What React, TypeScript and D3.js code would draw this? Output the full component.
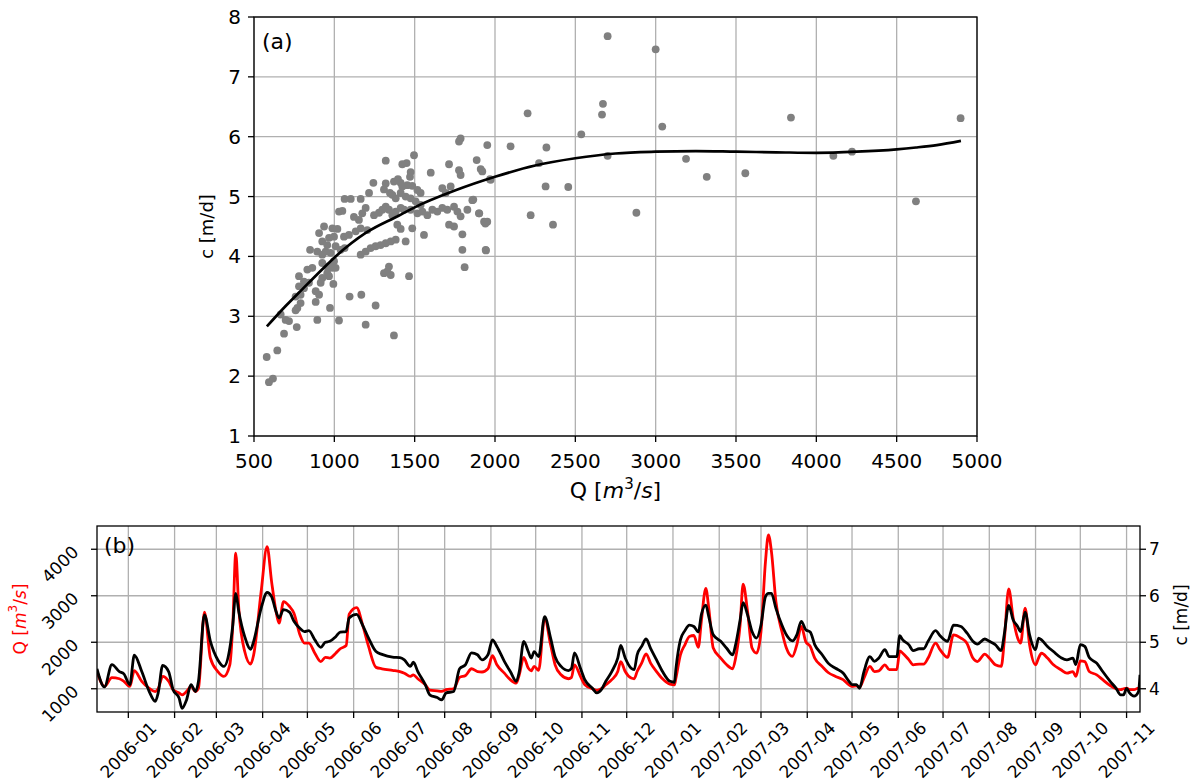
import React from "react";
import * as d3 from "d3";

// ---------- Panel (a) data ----------
const scatterQ = [1776,1786,1952,2097,1496,1320,1423,1450,1714,1886,1600,1475,1471,1776,1786,1911,1921,1969,1243,1320,1309,1371,1396,1413,1423,1454,1485,1517,1537,1672,1693,1724,1216,1064,1102,1164,1346,1361,1382,1413,1444,1475,1506,1537,1029,1050,1195,1174,1122,1153,1247,1278,1299,1320,1340,1361,1382,1413,1434,1475,1517,1548,1579,1610,1641,1672,1703,1745,1766,1786,1828,1859,1900,1932,1952,1714,1745,1558,1485,1392,1413,1444,1797,1797,1942,1811,905,936,988,1019,967,998,1060,1091,1133,1164,1205,1008,977,946,1039,1064,925,956,1164,1195,1226,1257,1288,1320,1351,1382,849,894,925,863,832,925,956,988,780,811,842,915,967,994,884,905,780,811,759,790,1340,1330,1351,1309,1465,770,790,759,884,973,1095,1168,1257,666,697,718,894,1029,1195,766,687,1371,645,579,593,618,998,977,1008,956,925,2203,2672,2666,2537,2701,2320,2701,2274,2315,2456,2222,2361,3000,3041,3842,4898,3189,3318,3558,4106,4222,4620,2880,1944,1940,1902,1865,1973];
const scatterC = [5.92,5.97,5.86,5.84,5.69,5.60,5.54,5.56,5.54,5.61,5.40,5.41,5.33,5.44,5.36,5.46,5.42,5.29,5.23,5.22,5.12,5.25,5.29,5.23,5.17,5.19,5.18,5.11,5.06,5.14,5.06,5.17,5.06,4.96,4.96,4.96,5.06,5.03,4.97,5.06,5.00,4.97,4.92,4.86,4.75,4.76,4.81,4.72,4.66,4.61,4.69,4.73,4.78,4.83,4.78,4.69,4.75,4.81,4.78,4.78,4.72,4.75,4.69,4.78,4.75,4.81,4.78,4.83,4.75,4.67,4.78,4.94,4.72,4.58,4.58,4.53,4.50,4.36,4.47,4.53,4.46,4.25,4.37,4.11,4.11,3.82,4.39,4.50,4.47,4.46,4.31,4.33,4.33,4.36,4.42,4.47,4.44,4.17,4.06,4.08,4.11,4.14,4.25,4.19,4.03,4.08,4.14,4.17,4.19,4.22,4.25,4.28,4.11,4.08,4.03,3.81,3.78,3.89,3.83,3.81,3.67,3.58,3.56,3.56,3.67,3.54,3.42,3.36,3.50,3.47,3.33,3.36,3.83,3.75,3.69,3.72,3.67,3.14,3.22,3.10,3.24,3.14,3.33,3.36,3.18,3.03,2.94,2.92,2.94,2.93,2.86,2.82,2.71,2.68,2.43,2.32,1.90,1.96,3.92,3.83,3.81,3.72,3.64,6.39,6.55,6.37,6.04,7.68,5.82,5.68,5.56,5.17,5.16,4.69,4.53,7.46,6.17,6.32,6.31,5.63,5.33,5.39,5.68,5.75,4.92,4.73,4.10,4.55,4.72,4.95,5.28];

const curveQ = [580,700,800,900,1000,1200,1400,1500,1750,2000,2250,2500,2750,3000,3250,3500,3750,4000,4250,4500,4620,4750,4900];
const curveC = [2.83,3.18,3.45,3.72,3.98,4.40,4.68,4.82,5.10,5.33,5.52,5.64,5.72,5.75,5.76,5.75,5.74,5.73,5.75,5.79,5.82,5.86,5.93];

const aXTicks = [500,1000,1500,2000,2500,3000,3500,4000,4500,5000];
const aYTicks = [1,2,3,4,5,6,7,8];

// ---------- Panel (b) data ----------
const seriesDates = [
"2005-12-11","2005-12-16","2005-12-21","2005-12-26","2005-12-29",
"2006-01-02","2006-01-05","2006-01-10","2006-01-15","2006-01-19","2006-01-21","2006-01-24","2006-01-28","2006-01-31",
"2006-02-04","2006-02-06","2006-02-09","2006-02-12","2006-02-15","2006-02-17","2006-02-21","2006-02-25",
"2006-03-02","2006-03-06","2006-03-10","2006-03-12","2006-03-14","2006-03-16","2006-03-20","2006-03-24","2006-03-26","2006-03-31",
"2006-04-04","2006-04-07","2006-04-10","2006-04-12","2006-04-15","2006-04-19","2006-04-22","2006-04-26","2006-04-29",
"2006-05-02","2006-05-06","2006-05-10","2006-05-13","2006-05-16","2006-05-20","2006-05-23","2006-05-27","2006-05-29",
"2006-06-03","2006-06-07","2006-06-11","2006-06-16","2006-06-20","2006-06-27",
"2006-07-02","2006-07-05","2006-07-09","2006-07-11","2006-07-14","2006-07-19","2006-07-22","2006-07-27","2006-07-30",
"2006-08-02","2006-08-07","2006-08-11","2006-08-15","2006-08-19","2006-08-23","2006-08-26","2006-08-30",
"2006-09-02","2006-09-05","2006-09-10","2006-09-14","2006-09-18","2006-09-20","2006-09-23","2006-09-26","2006-09-28","2006-09-30",
"2006-10-03","2006-10-07","2006-10-11","2006-10-14","2006-10-18","2006-10-23","2006-10-25","2006-10-27","2006-10-31",
"2006-11-03","2006-11-08","2006-11-11","2006-11-14","2006-11-17","2006-11-21","2006-11-25","2006-11-27","2006-11-30",
"2006-12-04","2006-12-06","2006-12-08","2006-12-11","2006-12-14","2006-12-17","2006-12-21","2006-12-25","2006-12-30",
"2007-01-02","2007-01-03","2007-01-06","2007-01-09","2007-01-12","2007-01-15","2007-01-18","2007-01-20","2007-01-23","2007-01-25","2007-01-28",
"2007-02-02","2007-02-06","2007-02-10","2007-02-12","2007-02-15","2007-02-17","2007-02-20","2007-02-23","2007-02-26",
"2007-03-01","2007-03-04","2007-03-06","2007-03-08","2007-03-11","2007-03-15","2007-03-18","2007-03-22","2007-03-25","2007-03-28","2007-03-31",
"2007-04-03","2007-04-06","2007-04-11","2007-04-15","2007-04-20","2007-04-25","2007-04-29",
"2007-05-01","2007-05-04","2007-05-06","2007-05-09","2007-05-13","2007-05-16","2007-05-19","2007-05-23","2007-05-26","2007-05-31",
"2007-06-02","2007-06-04","2007-06-08","2007-06-11","2007-06-15","2007-06-18","2007-06-21","2007-06-26","2007-06-29",
"2007-07-04","2007-07-08","2007-07-13","2007-07-17","2007-07-21","2007-07-24","2007-07-29",
"2007-08-01","2007-08-05","2007-08-09","2007-08-11","2007-08-14","2007-08-17","2007-08-20","2007-08-22","2007-08-25","2007-08-28",
"2007-09-01","2007-09-03","2007-09-05","2007-09-09","2007-09-13","2007-09-18","2007-09-22","2007-09-26","2007-09-28",
"2007-10-01","2007-10-04","2007-10-07","2007-10-12","2007-10-16","2007-10-21","2007-10-25","2007-10-28","2007-10-30",
"2007-11-01","2007-11-03","2007-11-06","2007-11-09","2007-11-10"
];

const qSeries = [
1370,1050,1240,1215,1160,
1050,1390,1160,1010,940,1000,1265,1160,980,
910,870,940,1050,940,1010,2650,1660,
1370,1265,1515,2375,3915,2735,1800,1530,1730,3090,
4055,3305,2660,2410,2875,2770,2625,2160,1980,
1980,1765,1585,1675,1660,1765,1860,1930,2605,
2745,2375,1910,1460,1430,1395,
1370,1335,1265,1300,1215,1085,970,955,945,
980,1000,1245,1285,1430,1370,1360,1430,
1710,1515,1335,1195,1120,1300,1675,1445,1385,1480,
1395,2520,1945,1515,1300,1215,1245,1515,1265,
1085,1000,965,1000,1085,1195,1370,1585,1370,
1230,1215,1370,1550,1750,1550,1370,1215,1100,
1085,1230,1730,1945,2125,2145,1890,2445,3160,2735,1875,
1660,1515,1430,1660,2375,3250,2660,1875,1765,
2230,3735,4310,3950,2875,2230,1875,1695,1945,2340,2015,
1910,1660,1480,1350,1265,1195,1085,
1050,1065,1030,1230,1480,1370,1385,1515,1410,1410,
1815,1765,1625,1515,1530,1530,1660,1980,1840,
1675,2160,2090,1980,1660,1585,1745,
1660,1515,1480,2015,3150,2520,2090,1980,2735,1945,
1515,1660,1765,1660,1515,1410,1335,1370,1265,
1600,1585,1370,1300,1195,1070,1000,980,1000,
1015,980,980,1015,1015
];

const cSeries = [
4.43,4.04,4.52,4.37,4.32,
4.09,4.72,4.37,3.94,3.73,3.91,4.50,4.37,3.98,
3.80,3.58,3.76,4.09,3.94,4.16,5.59,5.02,
4.62,4.48,4.87,5.37,6.05,5.66,5.12,4.85,5.02,5.73,
6.07,5.98,5.66,5.52,5.70,5.65,5.45,5.30,5.23,
5.25,5.05,4.89,5.00,5.02,5.12,5.22,5.23,5.52,
5.60,5.37,5.09,4.80,4.74,4.68,
4.67,4.62,4.48,4.57,4.37,4.09,3.87,3.81,3.76,
3.91,3.94,4.43,4.52,4.77,4.73,4.62,4.73,
5.05,4.91,4.59,4.37,4.16,4.37,5.02,4.80,4.66,4.80,
4.69,5.55,5.09,4.69,4.48,4.39,4.44,4.77,4.44,
4.19,4.01,3.91,3.98,4.16,4.37,4.66,4.93,4.66,
4.44,4.41,4.73,4.91,5.07,4.87,4.62,4.37,4.16,
4.14,4.44,5.05,5.25,5.37,5.34,5.22,5.59,5.80,5.55,5.16,
5.02,4.87,4.73,4.95,5.48,5.85,5.59,5.23,5.09,
5.37,5.98,6.05,6.05,5.73,5.37,5.16,5.03,5.16,5.45,5.27,
5.22,4.95,4.73,4.55,4.44,4.34,4.16,
4.09,4.09,4.01,4.37,4.69,4.59,4.66,4.84,4.69,4.69,
5.14,5.05,4.95,4.82,4.86,4.86,5.02,5.25,5.14,
5.02,5.37,5.34,5.20,5.02,4.96,5.07,
5.02,4.95,4.82,5.16,5.79,5.48,5.34,5.23,5.65,5.16,
4.84,5.09,5.05,4.91,4.80,4.67,4.62,4.66,4.52,
4.95,4.91,4.67,4.55,4.37,4.16,4.01,3.87,3.87,
4.01,3.91,3.84,3.94,4.30
];

const bQTicks = [1000,2000,3000,4000];
const bCTicks = [4,5,6,7];
const bDomainStart = "2005-12-11";
const bDomainEnd = "2007-11-10";
const bTickStart = "2006-01-01";
const bTickEnd = "2007-11-01";

const FONT = "DejaVu Sans, Liberation Sans, sans-serif";
const GRID = "#b0b0b0";

export default function App() {
  const parse = d3.timeParse("%Y-%m-%d");
  const fmt = d3.timeFormat("%Y-%m");

  // Panel A geometry
  const aL = 254, aR = 977, aT = 17, aB = 436;
  const ax = d3.scaleLinear().domain([500, 5000]).range([aL, aR]);
  const ay = d3.scaleLinear().domain([1, 8]).range([aB, aT]);
  const curvePts = curveQ.map((q, i) => [q, curveC[i]] as [number, number]);
  const curvePath = d3.line<[number, number]>()
    .x(d => ax(d[0])).y(d => ay(d[1]))
    .curve(d3.curveMonotoneX)(curvePts) || "";

  // Panel B geometry
  const bL = 97, bR = 1140, bT = 526, bB = 712;
  const bx = d3.scaleTime().domain([parse(bDomainStart)!, parse(bDomainEnd)!]).range([bL, bR]);
  const bq = d3.scaleLinear().domain([500, 4500]).range([bB, bT]);
  const bc = d3.scaleLinear().domain([3.5, 7.5]).range([bB, bT]);
  const dates = seriesDates.map(s => parse(s)!);
  const qPath = d3.line<number>()
    .x((_, i) => bx(dates[i])).y(d => bq(d))
    .curve(d3.curveMonotoneX)(qSeries) || "";
  const cPath = d3.line<number>()
    .x((_, i) => bx(dates[i])).y(d => bc(d))
    .curve(d3.curveMonotoneX)(cSeries) || "";
  const monthTicks = d3.timeMonth.range(parse(bTickStart)!, d3.timeDay.offset(parse(bTickEnd)!, 1));

  const tickLen = 6;
  const sw = 1.3;

  return (
    <svg width={1190} height={782} style={{ position: "absolute", left: 0, top: 0, background: "#fff" }}
      fontFamily={FONT}>
      <rect x={0} y={0} width={1190} height={782} fill="#fff" />
      <defs>
        <clipPath id="clipA"><rect x={aL} y={aT} width={aR - aL} height={aB - aT} /></clipPath>
        <clipPath id="clipB"><rect x={bL} y={bT} width={bR - bL} height={bB - bT} /></clipPath>
      </defs>
      {/* ================= Panel A ================= */}
      <g>
        {aXTicks.map(t => (
          <line key={"agx" + t} x1={ax(t)} x2={ax(t)} y1={aT} y2={aB} stroke={GRID} strokeWidth={sw} />
        ))}
        {aYTicks.map(t => (
          <line key={"agy" + t} x1={aL} x2={aR} y1={ay(t)} y2={ay(t)} stroke={GRID} strokeWidth={sw} />
        ))}
        <g clipPath="url(#clipA)">
          {scatterQ.map((q, i) => (
            <circle key={"pt" + i} cx={ax(q)} cy={ay(scatterC[i])} r={3.9} fill="#808080" />
          ))}
          <path d={curvePath} fill="none" stroke="#000" strokeWidth={2.7} />
        </g>
        <rect x={aL} y={aT} width={aR - aL} height={aB - aT} fill="none" stroke="#000" strokeWidth={sw} />
        {aXTicks.map(t => (
          <g key={"axt" + t}>
            <line x1={ax(t)} x2={ax(t)} y1={aB} y2={aB + tickLen} stroke="#000" strokeWidth={sw} />
            <text x={ax(t)} y={468} textAnchor="middle" fontSize={20} fill="#000">{t}</text>
          </g>
        ))}
        {aYTicks.map(t => (
          <g key={"ayt" + t}>
            <line x1={aL - tickLen} x2={aL} y1={ay(t)} y2={ay(t)} stroke="#000" strokeWidth={sw} />
            <text x={241} y={ay(t)} textAnchor="end" dominantBaseline="central" fontSize={20} fill="#000">{t}</text>
          </g>
        ))}
        <text x={262} y={49} fontSize={22} fill="#000">(a)</text>
        <text x={(aL + aR) / 2} y={498} textAnchor="middle" fontSize={22} fill="#000">
          Q [<tspan fontStyle="italic">m</tspan><tspan fontSize={15} dy={-9}>3</tspan><tspan dy={9}>/</tspan><tspan fontStyle="italic">s</tspan>]
        </text>
        <text transform={`translate(206,${(aT + aB) / 2}) rotate(-90)`} textAnchor="middle" dominantBaseline="central" fontSize={18} fill="#000">c [m/d]</text>
      </g>

      {/* ================= Panel B ================= */}
      <g>
        {monthTicks.map((d, i) => (
          <line key={"bgx" + i} x1={bx(d)} x2={bx(d)} y1={bT} y2={bB} stroke={GRID} strokeWidth={sw} />
        ))}
        {bQTicks.map(t => (
          <line key={"bgy" + t} x1={bL} x2={bR} y1={bq(t)} y2={bq(t)} stroke={GRID} strokeWidth={sw} />
        ))}
        <g clipPath="url(#clipB)">
          <path d={qPath} fill="none" stroke="#ff0000" strokeWidth={2.8} strokeLinejoin="round" />
          <path d={cPath} fill="none" stroke="#000" strokeWidth={2.8} strokeLinejoin="round" />
        </g>
        <rect x={bL} y={bT} width={bR - bL} height={bB - bT} fill="none" stroke="#000" strokeWidth={sw} />
        {monthTicks.map((d, i) => (
          <g key={"bxt" + i}>
            <line x1={bx(d)} x2={bx(d)} y1={bB} y2={bB + tickLen} stroke="#000" strokeWidth={sw} />
            <text transform={`translate(${bx(d)},${bB + 38}) rotate(-45)`} textAnchor="middle" dominantBaseline="central" fontSize={17} fill="#000">{fmt(d)}</text>
          </g>
        ))}
        {bQTicks.map(t => (
          <g key={"bqt" + t}>
            <line x1={bL - tickLen} x2={bL} y1={bq(t)} y2={bq(t)} stroke="#000" strokeWidth={sw} />
            <text transform={`translate(60,${bq(t) + 15}) rotate(-45)`} textAnchor="middle" dominantBaseline="central" fontSize={17} fill="#000">{t}</text>
          </g>
        ))}
        {bCTicks.map(t => (
          <g key={"bct" + t}>
            <line x1={bR} x2={bR + tickLen} y1={bc(t)} y2={bc(t)} stroke="#000" strokeWidth={sw} />
            <text x={bR + 9} y={bc(t)} dominantBaseline="central" fontSize={17} fill="#000">{t}</text>
          </g>
        ))}
        <text x={104} y={553} fontSize={22} fill="#000">(b)</text>
        <text transform={`translate(20,${(bT + bB) / 2}) rotate(-90)`} textAnchor="middle" dominantBaseline="central" fontSize={17} fill="#ff0000">
          Q [<tspan fontStyle="italic">m</tspan><tspan fontSize={12} dy={-7}>3</tspan><tspan dy={7}>/</tspan><tspan fontStyle="italic">s</tspan>]
        </text>
        <text transform={`translate(1181,${(bT + bB) / 2 - 4}) rotate(-90)`} textAnchor="middle" dominantBaseline="central" fontSize={17} fill="#000">c [m/d]</text>
      </g>
    </svg>
  );
}
